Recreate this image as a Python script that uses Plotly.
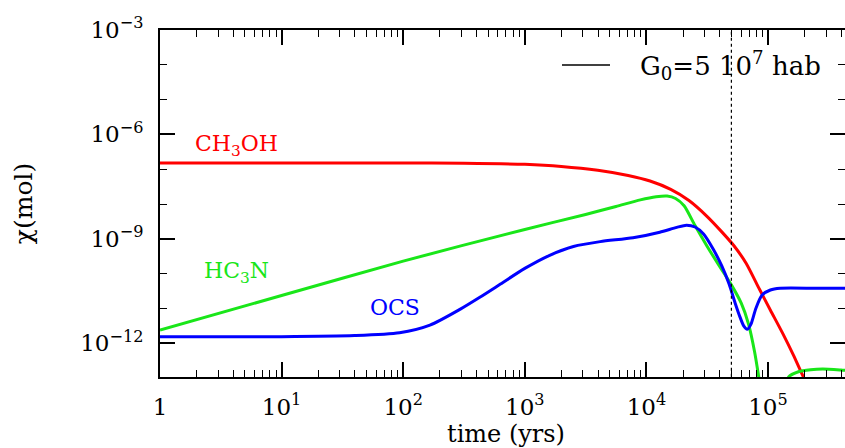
import numpy as np
import plotly.graph_objects as go

# ---- data (log10 of time in yrs, log10 of abundance) ----
ch3oh_logt = [0, 1, 2, 2.5, 3, 3.3, 3.6, 3.85, 4.03, 4.2, 4.35, 4.5, 4.62, 4.72, 4.82, 4.93, 5.02, 5.12, 5.21, 5.29, 5.36]
ch3oh_logx = [-6.82, -6.82, -6.82, -6.83, -6.86, -6.92, -7.03, -7.18, -7.34, -7.58, -7.9, -8.36, -8.8, -9.2, -9.7,
              -10.45, -11.05, -11.71, -12.35, -12.96, -13.45]

hc3n_logt = [0, 1, 2, 3, 3.5, 3.75, 3.95, 4.08, 4.17, 4.24, 4.31, 4.40, 4.50, 4.60, 4.70, 4.78, 4.84, 4.89, 4.93,
             4.98, 5.05, 5.12, 5.17, 5.25, 5.35, 5.45, 5.60, 5.70]
hc3n_logx = [-11.62, -10.63, -9.64, -8.73, -8.3, -8.07, -7.88, -7.79, -7.77, -7.84, -8.05, -8.62, -9.22, -9.78, -10.33,
             -10.85, -11.45, -12.25, -13.1, -14.2, -15.0, -13.8, -12.97, -12.82, -12.76, -12.74, -12.77, -12.8]

ocs_logt = [0, 1, 1.6, 1.97, 2.22, 2.47, 2.63, 2.80, 3.0, 3.2, 3.4, 3.62, 3.89, 4.11, 4.25, 4.33, 4.40, 4.47, 4.55,
            4.62, 4.68, 4.73, 4.77, 4.80, 4.83, 4.86, 4.90, 4.95, 5.02, 5.10, 5.40, 5.70]
ocs_logx = [-11.81, -11.81, -11.78, -11.70, -11.48, -11.02, -10.68, -10.3, -9.85, -9.48, -9.22, -9.08, -8.97, -8.81, -8.67,
            -8.61, -8.66, -8.86, -9.3, -9.78, -10.3, -10.85, -11.25, -11.5, -11.6, -11.45, -11.0, -10.62, -10.47,
            -10.42, -10.42, -10.42]

marker_time = [5e4, 5e4]          # vertical dotted line at t = 5 10^4 yrs
marker_abund = [1e-14, 1e-3]

x_tickvals = [1, 10, 100, 1e3, 1e4, 1e5]
x_ticktext = ["1", "10<sup>1</sup>", "10<sup>2</sup>", "10<sup>3</sup>", "10<sup>4</sup>", "10<sup>5</sup>"]
y_tickvals = [1e-12, 1e-9, 1e-6, 1e-3]
y_ticktext = ["10<sup>\u221212</sup>", "10<sup>\u22129</sup>", "10<sup>\u22126</sup>", "10<sup>\u22123</sup>"]

RED = "#ff0000"
GREEN = "#19e619"
BLUE = "#0000ff"
FONT = "DejaVu Serif"

x_minor = [m * 10 ** d for d in range(0, 6) for m in range(2, 10)]
y_minor = [10.0 ** e for e in range(-13, -2) if e % 3 != 0]

fig = go.Figure()
for lt, lx, col in [(ch3oh_logt, ch3oh_logx, RED), (hc3n_logt, hc3n_logx, GREEN), (ocs_logt, ocs_logx, BLUE)]:
    fig.add_trace(go.Scatter(x=10 ** np.array(lt), y=10 ** np.array(lx), mode="lines",
                             line=dict(color=col, width=3, shape="spline", smoothing=0.7),
                             showlegend=False, hoverinfo="skip"))

fig.add_trace(go.Scatter(x=marker_time, y=marker_abund, mode="lines", yaxis="y2",
                         line=dict(color="black", width=1.2, dash="dot"), showlegend=False, hoverinfo="skip"))

W, H = 845, 448
L, T, B = 160, 30, 71
PW, PH = W - L, H - T - B


def px(xp):
    return (xp - L) / PW


def py(yp):
    return (H - B - yp) / PH


axis_common = dict(type="log", showgrid=False, zeroline=False, ticks="inside", tickcolor="black",
                   tickwidth=1.6, linecolor="black", linewidth=2,
                   tickfont=dict(family=FONT, size=23, color="black"))

fig.update_layout(
    width=W, height=H,
    margin=dict(l=L, r=0, t=T, b=B),
    paper_bgcolor="white", plot_bgcolor="white",
    xaxis=dict(axis_common, range=[0, (W - L) / 121.6], showline=True, mirror="ticks",
               tickmode="array", tickvals=x_tickvals, ticktext=x_ticktext, ticklen=15,
               minor=dict(tickmode="array", tickvals=x_minor, ticklen=7, ticks="inside",
                          tickcolor="black", tickwidth=1.4),
               ticklabelstandoff=8),
    yaxis=dict(axis_common, range=[-12.97, -3], showline=True, mirror=False,
               tickmode="array", tickvals=y_tickvals, ticktext=y_ticktext, ticklen=15,
               minor=dict(tickmode="array", tickvals=y_minor, ticklen=7, ticks="inside",
                          tickcolor="black", tickwidth=1.4),
               ticklabelstandoff=10,
               title=dict(text="\u03c7(mol)", font=dict(family=FONT, size=25, color="black"), standoff=40)),
    yaxis2=dict(type="log", range=[-12.97, -3], overlaying="y", side="right", showline=False,
                showgrid=False, zeroline=False, ticks="inside", ticklen=15, tickwidth=1.6, tickcolor="black",
                tickmode="array", tickvals=y_tickvals, showticklabels=False,
                minor=dict(tickmode="array", tickvals=y_minor, ticklen=7, ticks="inside",
                           tickcolor="black", tickwidth=1.4)),
)

# x-axis title
fig.add_annotation(x=px(506), y=py(434), xref="paper", yref="paper", xanchor="center", yanchor="middle",
                   text="time (yrs)", showarrow=False, font=dict(family=FONT, size=24, color="black"))

# species labels
fig.add_annotation(x=px(193), y=py(145), xref="paper", yref="paper", xanchor="left", yanchor="middle",
                   text="CH<sub>3</sub>OH", showarrow=False, font=dict(family=FONT, size=22, color=RED))
fig.add_annotation(x=px(202), y=py(272), xref="paper", yref="paper", xanchor="left", yanchor="middle",
                   text="HC<sub>3</sub>N", showarrow=False, font=dict(family=FONT, size=22, color=GREEN))
fig.add_annotation(x=px(368), y=py(307), xref="paper", yref="paper", xanchor="left", yanchor="middle",
                   text="OCS", showarrow=False, font=dict(family=FONT, size=22, color=BLUE))

# legend key
fig.add_shape(type="line", xref="paper", yref="paper", x0=px(562), x1=px(610), y0=py(65), y1=py(65),
              line=dict(color="black", width=1.6))
fig.add_annotation(x=px(638), y=py(65), xref="paper", yref="paper", xanchor="left", yanchor="middle",
                   text="G<sub>0</sub>=5 10<sup>7</sup> hab", showarrow=False,
                   font=dict(family=FONT, size=26, color="black"))

fig.write_html("out.html")
